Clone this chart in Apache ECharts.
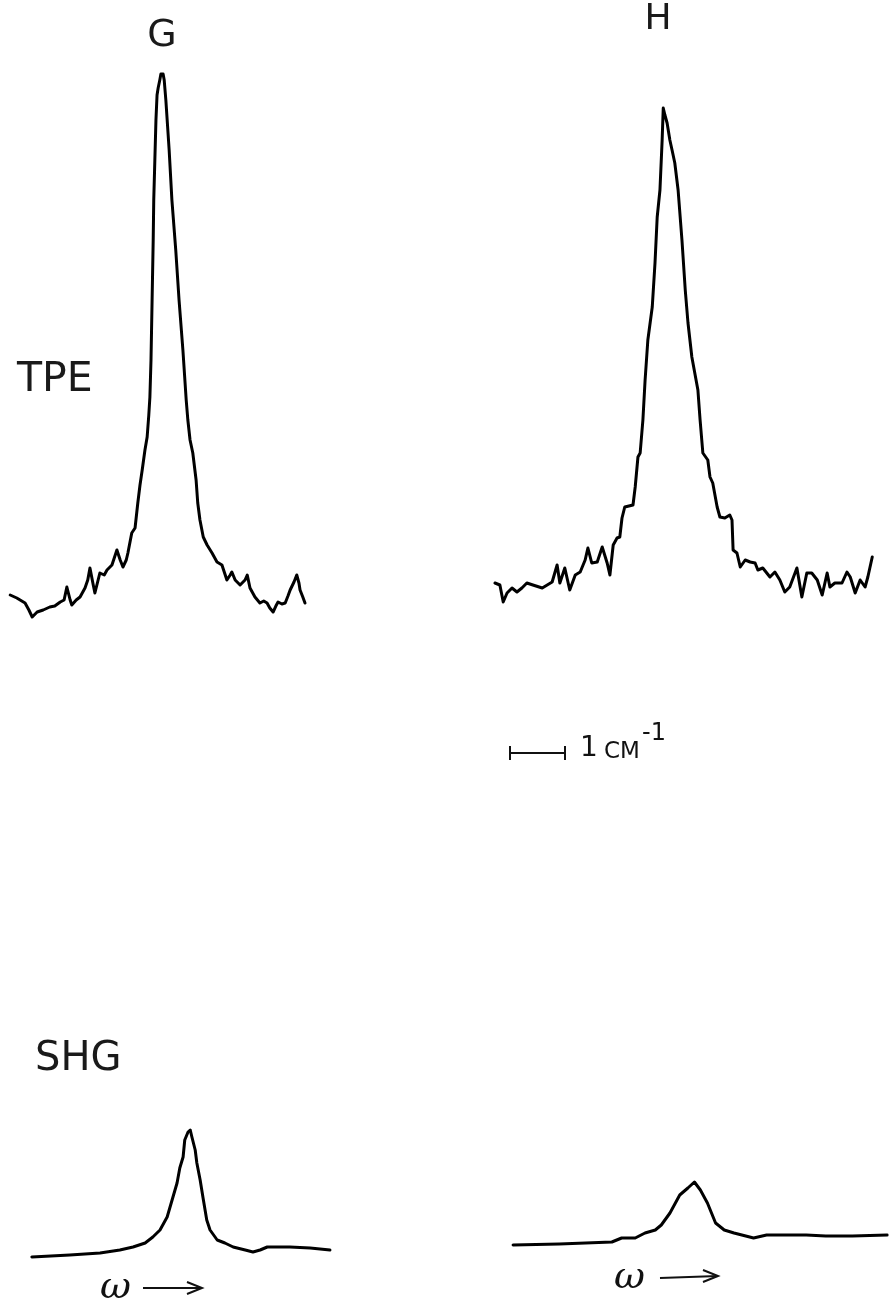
<!DOCTYPE html>
<html><head><meta charset="utf-8">
<script src="https://cdn.jsdelivr.net/npm/echarts@6/dist/echarts.min.js"></script>
<style>html,body{margin:0;padding:0;background:#fff}#c{width:892px;height:1310px}</style>
</head><body><div id="c"></div>
<script>
// x: relative wavenumber (cm^-1), y: signal (arb. units)
const tpeG_x = [0.04,0.16,0.31,0.38,0.44,0.53,0.64,0.76,0.85,0.95,1.02,1.07,1.13,1.16,1.24,1.31,1.40,1.45,1.49,1.55,1.58,1.67,1.75,1.80,1.89,1.98,2.04,2.09,2.15,2.18,2.25,2.31,2.36,2.40,2.44,2.49,2.53,2.56,2.58,2.60,2.62,2.64,2.65,2.67,2.69,2.71,2.73,2.76,2.78,2.80,2.82,2.84,2.87,2.93,2.98,3.05,3.11,3.18,3.24,3.27,3.31,3.36,3.42,3.45,3.49,3.55,3.62,3.71,3.80,3.89,3.98,4.04,4.07,4.13,4.22,4.25,4.31,4.35,4.40,4.49,4.58,4.65,4.71,4.76,4.82,4.87,4.91,4.98,5.04,5.09,5.13,5.20,5.25,5.29,5.31,5.36,5.40];
const tpeG_y = [7.0,6.4,5.4,4.0,2.6,3.6,4.0,4.6,4.8,5.6,6.0,8.6,6.0,5.0,6.0,6.6,8.4,10.0,12.4,9.0,7.4,11.4,11.0,12.0,13.0,16.0,14.0,12.6,14.0,15.4,19.4,20.4,25.4,29.0,32.0,36.0,38.6,43.0,46.6,54.0,66.0,78.0,86.0,94.0,102.0,107.0,108.4,110.0,111.2,111.6,111.2,110.0,106.0,96.0,86.0,76.0,66.0,56.0,46.0,42.0,38.0,35.4,30.0,25.4,22.0,18.6,17.0,15.4,13.6,13.0,10.0,11.0,11.6,10.0,9.0,8.6,10.0,11.0,8.4,6.6,5.4,5.8,5.4,4.4,3.6,4.8,5.6,5.2,5.4,6.8,8.0,9.6,11.0,9.4,8.0,6.6,5.4];

const tpeH_x = [0.09,0.18,0.24,0.31,0.40,0.49,0.58,0.67,0.78,0.95,1.04,1.13,1.22,1.27,1.36,1.45,1.55,1.64,1.73,1.78,1.85,1.95,2.04,2.13,2.18,2.24,2.31,2.36,2.40,2.45,2.60,2.64,2.69,2.73,2.78,2.82,2.87,2.95,3.00,3.04,3.09,3.13,3.15,3.18,3.22,3.27,3.31,3.36,3.42,3.49,3.55,3.60,3.67,3.78,3.82,3.87,3.96,4.00,4.05,4.13,4.18,4.27,4.36,4.40,4.42,4.49,4.55,4.64,4.73,4.82,4.87,4.96,5.09,5.18,5.27,5.36,5.45,5.58,5.67,5.76,5.85,5.95,6.04,6.13,6.18,6.27,6.40,6.49,6.55,6.64,6.73,6.82,6.87,6.95];
const tpeH_y = [9.4,9.0,5.6,7.4,8.4,7.6,8.4,9.4,9.0,8.4,9.0,9.6,13.0,9.4,12.4,8.0,11.0,11.6,14.0,16.4,13.4,13.6,16.6,13.4,11.0,17.0,18.4,18.6,22.4,24.6,25.0,28.6,34.6,35.4,42.0,50.0,58.0,64.6,73.4,82.6,88.0,98.0,104.4,103.0,101.4,98.0,96.0,93.4,88.0,78.0,68.0,61.4,54.6,48.0,42.0,35.4,34.0,30.6,29.4,24.6,22.6,22.4,23.0,22.0,16.0,15.4,12.6,14.0,13.6,13.4,12.0,12.4,10.6,11.6,10.0,7.6,8.6,12.4,6.6,11.4,11.4,10.0,7.0,11.4,8.6,9.4,9.4,11.6,10.6,7.4,10.0,8.6,10.6,14.6];

const shgG_x = [0.07,0.76,1.31,1.67,1.91,2.13,2.27,2.40,2.53,2.62,2.71,2.76,2.82,2.85,2.91,2.95,2.98,3.04,3.07,3.13,3.18,3.25,3.31,3.44,3.58,3.73,3.95,4.09,4.22,4.35,4.76,5.13,5.49];
const shgG_y = [0.6,1.0,1.4,2.0,2.6,3.4,4.6,6.0,8.6,12.0,15.4,18.4,20.6,24.0,25.6,26.0,24.6,22.0,19.4,16.0,12.6,8.0,6.0,4.0,3.4,2.6,2.0,1.6,2.0,2.6,2.6,2.4,2.0];

const shgH_x = [0.02,0.87,1.84,2.02,2.27,2.45,2.64,2.75,2.91,3.09,3.24,3.36,3.47,3.60,3.75,3.91,4.09,4.45,4.69,5.05,5.42,5.78,6.27,6.91];
const shgH_y = [3.0,3.2,3.6,4.4,4.4,5.4,6.0,7.0,9.4,13.0,14.4,15.6,14.0,11.4,7.4,6.0,5.4,4.4,5.0,5.0,5.0,4.8,4.8,5.0];

const scaleBar_x = [0, 1];   // 1 cm^-1
const scaleBar_y = [0.5, 0.5];

const panelLabels = ['G', 'H'];
const rowLabels = ['TPE', 'SHG'];
const scaleText = ['1', 'CM', '-1'];
const axisText = 'ω';

function pairs(xs, ys) { return xs.map((x, i) => [x, ys[i]]); }

const chart = echarts.init(document.getElementById('c'), null, {renderer: 'canvas'});
const font = "'DejaVu Sans', sans-serif";
const narrow = "'Liberation Sans Narrow', 'DejaVu Sans', sans-serif";
const lineW = 3;

function lineSeries(idx, xs, ys) {
  return {type: 'line', xAxisIndex: idx, yAxisIndex: idx, data: pairs(xs, ys),
    showSymbol: false, symbol: 'none', smooth: false, clip: false,
    lineStyle: {color: '#000', width: lineW, join: 'round', cap: 'round'}, silent: true};
}
function arrow(x1, y1, x2, y2) {
  return [
    {type: 'line', shape: {x1: x1, y1: y1, x2: x2, y2: y2}, style: {stroke: '#111', lineWidth: 2}},
    {type: 'polyline', shape: {points: [[x2 - 15, y2 - 6], [x2, y2], [x2 - 15, y2 + 6]]}, style: {stroke: '#111', lineWidth: 2, fill: null}}
  ];
}

const option = {
  animation: false,
  backgroundColor: '#fff',
  grid: [
    {left: 8, top: 60, width: 308, height: 570},
    {left: 490, top: 60, width: 396, height: 570},
    {left: 28, top: 1060, width: 308, height: 200},
    {left: 512, top: 1060, width: 385, height: 200},
    {left: 510, top: 748, width: 55, height: 10}
  ],
  xAxis: [
    {gridIndex: 0, type: 'value', min: 0, max: 5.6, show: false},
    {gridIndex: 1, type: 'value', min: 0, max: 7.2, show: false},
    {gridIndex: 2, type: 'value', min: 0, max: 5.6, show: false},
    {gridIndex: 3, type: 'value', min: 0, max: 7, show: false},
    {gridIndex: 4, type: 'value', min: 0, max: 1, show: false}
  ],
  yAxis: [
    {gridIndex: 0, type: 'value', min: 0, max: 114, show: false},
    {gridIndex: 1, type: 'value', min: 0, max: 114, show: false},
    {gridIndex: 2, type: 'value', min: 0, max: 40, show: false},
    {gridIndex: 3, type: 'value', min: 0, max: 40, show: false},
    {gridIndex: 4, type: 'value', min: 0, max: 1, show: false}
  ],
  series: [
    lineSeries(0, tpeG_x, tpeG_y),
    lineSeries(1, tpeH_x, tpeH_y),
    lineSeries(2, shgG_x, shgG_y),
    lineSeries(3, shgH_x, shgH_y),
    {type: 'line', xAxisIndex: 4, yAxisIndex: 4, data: pairs(scaleBar_x, scaleBar_y),
      symbol: 'rect', symbolSize: [2, 14], showSymbol: true, clip: false,
      itemStyle: {color: '#111'}, lineStyle: {color: '#111', width: 2}, silent: true}
  ],
  graphic: [
    {type: 'text', x: 162, y: 36, style: {text: panelLabels[0], font: '38px ' + narrow, fill: '#1a1a1a', textAlign: 'center', textVerticalAlign: 'middle'}},
    {type: 'text', x: 658, y: 20, style: {text: panelLabels[1], font: '36px ' + narrow, fill: '#1a1a1a', textAlign: 'center', textVerticalAlign: 'middle'}},
    {type: 'text', x: 17, y: 380, style: {text: rowLabels[0], font: '41px ' + font, fill: '#1a1a1a', textAlign: 'left', textVerticalAlign: 'middle'}},
    {type: 'text', x: 35, y: 1060, style: {text: rowLabels[1], font: '40px ' + font, fill: '#1a1a1a', textAlign: 'left', textVerticalAlign: 'middle'}},
    {type: 'text', x: 580, y: 749, style: {text: scaleText[0], font: '28px ' + narrow, fill: '#111', textAlign: 'left', textVerticalAlign: 'middle'}},
    {type: 'text', x: 604, y: 752, style: {text: scaleText[1], font: '23px ' + font, fill: '#111', textAlign: 'left', textVerticalAlign: 'middle'}},
    {type: 'text', x: 642, y: 734, style: {text: scaleText[2], font: '24px ' + narrow, fill: '#111', textAlign: 'left', textVerticalAlign: 'middle'}},
    {type: 'text', x: 100, y: 1288, style: {text: axisText, font: 'italic 38px "DejaVu Serif", serif', fill: '#111', textAlign: 'left', textVerticalAlign: 'middle'}},
    {type: 'text', x: 614, y: 1278, style: {text: axisText, font: 'italic 38px "DejaVu Serif", serif', fill: '#111', textAlign: 'left', textVerticalAlign: 'middle'}}
  ].concat(arrow(143, 1288, 202, 1288)).concat(arrow(660, 1278, 718, 1276))
};
chart.setOption(option);
</script>
</body></html>
